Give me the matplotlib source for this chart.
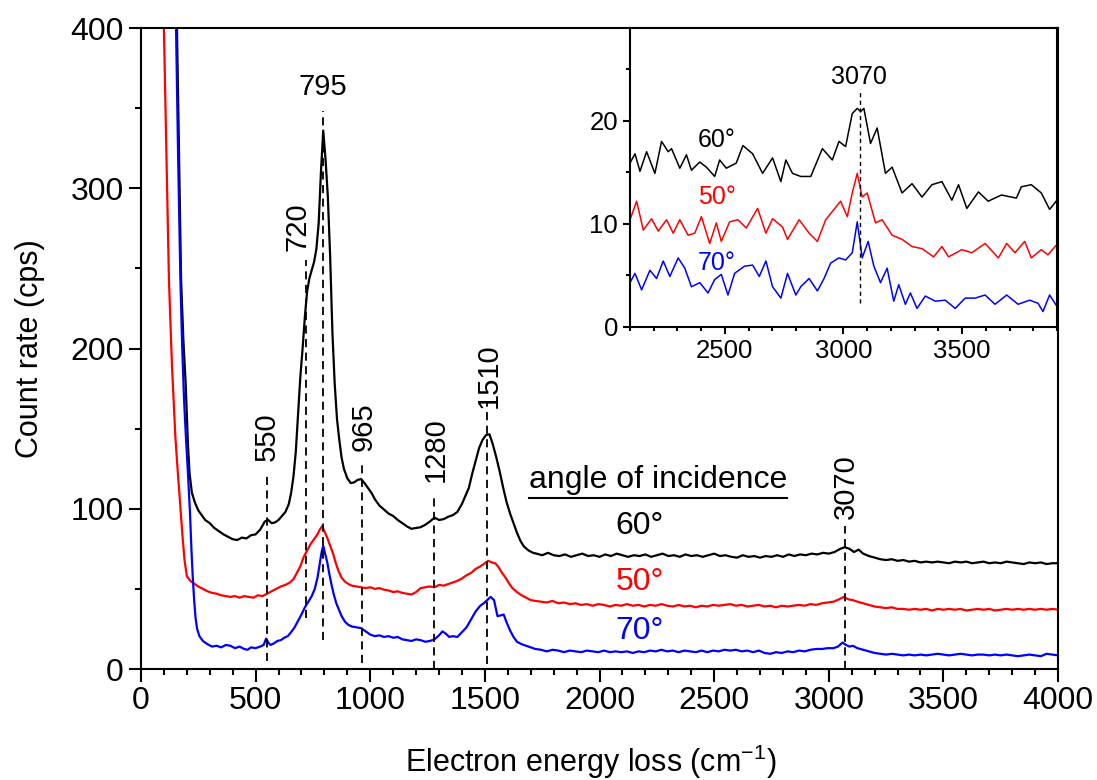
import matplotlib.pyplot as plt
from matplotlib.ticker import MultipleLocator
from matplotlib.lines import Line2D

plt.rcParams['font.family'] = ['Liberation Sans', 'DejaVu Sans']
plt.rcParams['mathtext.fontset'] = 'custom'
plt.rcParams['mathtext.rm'] = 'Liberation Sans'

BLACK = "#000000"
RED = "#FF0000"
BLUE = "#0000FF"

# ---- main spectra ----
x60 = [157, 166, 175, 185, 195, 205, 212, 222, 235, 250, 265, 280, 300, 320, 340, 360,
       380, 400, 420, 440, 460, 480, 500, 520, 540, 555, 570, 585, 600, 615, 630, 645,
       655, 665, 675, 685, 695, 705, 715, 725, 735, 745, 755, 765, 775, 785, 795, 805,
       815, 825, 835, 845, 855, 865, 875, 885, 900, 915, 930, 945, 960, 975, 990, 1005,
       1020, 1040, 1060, 1080, 1100, 1120, 1140, 1160, 1180, 1200, 1220, 1240, 1260,
       1280, 1300, 1320, 1340, 1360, 1380, 1400, 1415, 1430, 1445, 1460, 1475, 1490,
       1505, 1520, 1535, 1550, 1565, 1580, 1595, 1610, 1625, 1640, 1655, 1670, 1690,
       1710, 1725, 1750, 1775, 1800, 1825, 1850, 1875, 1900, 1925, 1950, 1975, 2000,
       2025, 2050, 2075, 2100, 2125, 2150, 2175, 2200, 2225, 2250, 2275, 2300, 2325,
       2350, 2375, 2400, 2425, 2450, 2475, 2500, 2525, 2550, 2575, 2600, 2625, 2650,
       2675, 2700, 2725, 2750, 2775, 2800, 2825, 2850, 2875, 2900, 2925, 2950, 2975,
       3000, 3025, 3050, 3070, 3090, 3110, 3130, 3150, 3175, 3200, 3225, 3250, 3275,
       3300, 3325, 3350, 3375, 3400, 3425, 3450, 3475, 3500, 3525, 3550, 3575, 3600,
       3625, 3650, 3675, 3700, 3725, 3750, 3775, 3800, 3825, 3850, 3875, 3900, 3925,
       3950, 3975, 4000]
y60 = [400, 320, 243, 205, 178, 140, 122, 110, 104, 99, 96, 93, 91, 88, 86, 84,
       82.5, 81, 80.5, 82, 81.5, 83.5, 84, 87, 92, 93, 91, 91.5, 93, 95.5, 98, 103,
       110, 120, 135, 158, 182, 200, 220, 236, 244, 249, 254, 262, 278, 310, 336, 318,
       295, 258, 210, 178, 156, 143, 132, 125, 119, 116, 116.5, 118, 118.5, 116, 113, 110,
       106, 102, 99.5, 97, 95.5, 93, 91, 89, 87.5, 88, 88.5, 90, 92,
       94.5, 93, 93.5, 95, 96, 98, 103, 108, 113, 122, 130, 138, 143,
       146, 146.5, 140, 132, 123, 113, 104, 97, 91, 85, 80, 76.5, 74,
       72.5, 72, 71, 72.5, 71, 70.5, 71.5, 70, 71, 72, 70.5, 71, 70,
       71.5, 70.5, 72, 71, 70, 71, 70.5, 71.5, 70, 71, 72, 70.5, 71,
       70, 71.5, 70.5, 71, 70, 71, 72, 70.5, 71, 70, 69.5, 71, 70,
       70.5, 69.5, 70.5, 70, 71, 70, 71.5, 70.5, 71.5, 71, 72, 71.5, 72.5,
       72, 73, 75, 76, 75, 73, 74.5, 72, 70.5, 69.5, 68.5, 68, 68.5,
       67.5, 68, 67, 67.5, 66.5, 67, 66.5, 67, 66.5, 66, 67, 66.5, 67,
       66, 66.5, 67, 66, 66.5, 66, 67, 66.5, 66, 65.5, 66.5, 66, 66.5,
       65.5, 66, 66]

x50 = [100, 110, 122, 135, 150, 162, 170, 180, 190, 200, 215, 230, 250, 270, 290, 310,
       330, 350, 370, 390, 410, 430, 450, 470, 490, 510, 530, 550, 570, 590, 610, 630,
       650, 665, 680, 695, 710, 725, 740, 755, 770, 780, 790, 800, 812, 825, 838, 850,
       862, 875, 890, 905, 920, 940, 960, 980, 1000, 1020, 1040, 1060, 1080, 1100, 1120,
       1140, 1160, 1180, 1200, 1220, 1240, 1260, 1280, 1300, 1320, 1340, 1360, 1380,
       1400, 1420, 1440, 1460, 1480, 1500, 1515, 1530, 1545, 1560, 1575, 1590, 1605,
       1620, 1640, 1660, 1680, 1700, 1720, 1745, 1770, 1795, 1820, 1845, 1870, 1895,
       1920, 1945, 1970, 1995, 2020, 2045, 2070, 2095, 2120, 2145, 2170, 2195, 2220,
       2245, 2270, 2295, 2320, 2345, 2370, 2395, 2420, 2445, 2470, 2495, 2520, 2545,
       2570, 2595, 2620, 2645, 2670, 2695, 2720, 2745, 2770, 2795, 2820, 2845, 2870,
       2895, 2920, 2945, 2970, 2995, 3020, 3045, 3065, 3085, 3105, 3125, 3150, 3175,
       3200, 3225, 3250, 3275, 3300, 3325, 3350, 3375, 3400, 3425, 3450, 3475, 3500,
       3525, 3550, 3575, 3600, 3625, 3650, 3675, 3700, 3725, 3750, 3775, 3800, 3825,
       3850, 3875, 3900, 3925, 3950, 3975, 4000]
y50 = [400, 330, 243, 190, 145, 120, 105, 85, 68, 58, 55, 53.5, 51.5, 50, 48.5, 47.5,
       47, 46, 45.5, 45, 45.5, 44.5, 45.5, 45, 44.5, 46, 45.5, 47, 48.5, 50, 51.5, 52.5,
       54, 56, 60, 64, 70, 74, 78, 81, 84, 87, 89, 86, 82, 77, 72, 66,
       61, 57, 54.5, 53, 52, 51.5, 51, 50.5, 51, 50, 50.5, 49.5, 49, 48, 48.5,
       47.5, 47, 46.5, 48, 50.5, 51, 51.5, 51, 52.5, 52, 53, 54, 55,
       56.5, 58.5, 60, 62.5, 64, 66, 67.5, 66.5, 66, 63.5, 60, 57, 53.5,
       50.5, 48, 46, 44.5, 43, 42.5, 42, 41.5, 42.5, 41, 41.5, 40.5, 41,
       40, 40.5, 39.5, 40.5, 40, 39, 40, 39.5, 40.5, 39.5, 40, 39, 40,
       39.5, 40.5, 39.5, 39, 40, 39, 39.5, 38.5, 39.5, 39, 40, 39.5, 40,
       40.5, 39.5, 40, 39, 39.5, 40, 39, 39.5, 38.5, 39.5, 39, 39.5, 40,
       39.5, 40.5, 40, 41, 41.5, 42, 43.5, 45, 43.5, 43, 42, 41, 40,
       39, 38.5, 38, 38.5, 37.5, 37.5, 37, 37.5, 37, 37.5, 36.5, 37.5, 37,
       37.5, 37, 37.5, 36.5, 37, 37.5, 37, 37.5, 36.5, 37, 37.5, 37, 37.5,
       37, 37.5, 37, 37.5, 37, 37.5, 37]

x70 = [153, 162, 172, 180, 188, 196, 205, 214, 220, 226, 232, 238, 245, 255, 270, 290,
       310, 330, 350, 370, 390, 410, 430, 450, 465, 480, 500, 520, 535, 546, 555, 565,
       580, 595, 610, 625, 640, 655, 670, 685, 700, 715, 730, 745, 758, 770, 780, 788,
       795, 803, 812, 822, 832, 842, 852, 862, 875, 890, 905, 920, 940, 960, 980, 1000,
       1020, 1040, 1060, 1080, 1100, 1120, 1140, 1160, 1180, 1200, 1220, 1240, 1260,
       1280, 1300, 1315, 1330, 1345, 1360, 1380, 1400, 1420, 1440, 1460, 1480, 1495,
       1510, 1525, 1540, 1555, 1570, 1582, 1595, 1610, 1625, 1640, 1660, 1680, 1700,
       1720, 1745, 1770, 1795, 1820, 1845, 1870, 1895, 1920, 1945, 1970, 1995, 2020,
       2045, 2070, 2095, 2120, 2145, 2170, 2195, 2220, 2245, 2270, 2295, 2320, 2345,
       2370, 2395, 2420, 2445, 2470, 2495, 2520, 2545, 2570, 2595, 2620, 2645, 2670,
       2695, 2720, 2745, 2770, 2795, 2820, 2845, 2870, 2895, 2920, 2945, 2970, 2995,
       3020, 3040, 3060, 3075, 3090, 3105, 3125, 3150, 3175, 3200, 3225, 3250, 3275,
       3300, 3325, 3350, 3375, 3400, 3425, 3450, 3475, 3500, 3525, 3550, 3575, 3600,
       3625, 3650, 3675, 3700, 3725, 3750, 3775, 3800, 3825, 3850, 3875, 3900, 3925,
       3950, 3975, 4000]
y70 = [400, 320, 243, 200, 168, 145, 122, 97, 75, 57, 43, 32, 25, 20.5, 17.5, 15.5,
       14, 14.5, 13.5, 15, 14.5, 13, 14, 12.5, 12, 13.5, 13, 14, 15, 19, 16.5, 15,
       16, 17.5, 18, 19.5, 20.5, 23, 26, 30, 34, 38.5, 42, 45.5, 50, 57, 66, 73,
       77, 72, 67, 59, 52, 46, 41, 37.5, 33, 29.5, 27.5, 26.5, 26, 25.5, 23.5, 21.5,
       20.5, 21, 20, 20.5, 19.5, 20, 18.5, 18, 17.5, 18.5, 18, 17, 17.5,
       18.5, 21, 23.5, 22, 20, 20.5, 20, 23, 26, 31, 36, 39.5, 41,
       43, 45, 43, 33, 33.5, 34, 29, 24, 20, 17, 15.5, 14.5, 13.5,
       12.5, 12, 11, 12, 11.5, 10.5, 11.5, 11, 10.5, 11.5, 11, 10.5, 11.5,
       10.5, 11, 10.5, 11, 10, 11, 10.5, 11.5, 11, 12, 11, 11.5, 10.5,
       11.5, 11, 10.5, 11.5, 10.5, 11.5, 11, 12, 11.5, 12, 11, 11.5, 10.5,
       11.5, 10, 9.5, 10.5, 10, 11, 10.5, 11.5, 11, 12, 12.5, 12.5, 13,
       13, 14, 16.5, 15, 14, 14.5, 13, 12, 11, 10, 9.5, 9, 9.5,
       9, 8.5, 9, 8.5, 9, 8.5, 9, 9.5, 9, 8.5, 9, 9.5, 9,
       8.5, 9, 9, 8.5, 9, 8.5, 9, 8.5, 8, 8.5, 9, 8.5, 8,
       9.5, 9, 8.5]

# ---- inset spectra ----
xi60 = [2100, 2121, 2142, 2170, 2205, 2233, 2261, 2275, 2310, 2338, 2359, 2394, 2422,
        2457, 2478, 2506, 2548, 2576, 2617, 2659, 2701, 2736, 2757, 2785, 2820, 2862,
        2911, 2953, 2981, 3009, 3037, 3058, 3072, 3086, 3114, 3142, 3177, 3205, 3247,
        3289, 3331, 3373, 3415, 3457, 3485, 3520, 3569, 3610, 3666, 3729, 3750, 3792,
        3834, 3869, 3900]
yi60 = [15.9, 16.8, 15.1, 17.0, 14.9, 18.0, 17.0, 17.3, 15.4, 16.7, 15.2, 16.0, 15.5,
        14.6, 16.2, 15.4, 15.9, 17.6, 16.8, 14.9, 16.4, 14.1, 16.2, 14.9, 14.6, 14.6,
        17.3, 16.2, 18.0, 17.5, 20.7, 21.2, 20.9, 21.2, 17.8, 19.3, 14.9, 15.5, 13.0,
        13.9, 12.6, 13.8, 14.1, 12.3, 13.8, 11.5, 13.1, 12.2, 12.8, 12.5, 13.6, 13.8,
        13.0, 11.4, 12.3]

xi50 = [2100, 2128, 2156, 2191, 2219, 2254, 2282, 2310, 2345, 2373, 2401, 2436, 2464,
        2485, 2520, 2555, 2590, 2638, 2673, 2701, 2743, 2764, 2813, 2855, 2890, 2925,
        2960, 2988, 3016, 3037, 3058, 3079, 3100, 3135, 3163, 3205, 3247, 3289, 3331,
        3380, 3415, 3443, 3499, 3541, 3597, 3653, 3688, 3723, 3764, 3792, 3834, 3862,
        3900]
yi50 = [10.4, 12.2, 9.4, 10.5, 9.3, 10.4, 9.1, 10.4, 8.9, 9.1, 10.7, 8.1, 10.1,
        8.3, 10.2, 10.4, 9.6, 11.5, 9.1, 10.5, 9.7, 8.5, 10.4, 9.1, 8.3, 10.4,
        11.4, 12.2, 10.7, 13.0, 14.9, 12.6, 13.0, 10.1, 10.4, 8.9, 8.5, 7.8, 7.6,
        6.8, 7.8, 6.8, 7.5, 7.2, 8.1, 6.7, 8.1, 7.2, 8.3, 6.7, 7.5, 7.0,
        8.0]

xi70 = [2100, 2121, 2149, 2184, 2212, 2240, 2268, 2303, 2331, 2359, 2394, 2429, 2457,
        2485, 2513, 2541, 2583, 2617, 2645, 2673, 2701, 2736, 2764, 2799, 2820, 2855,
        2890, 2918, 2946, 2981, 3009, 3037, 3058, 3079, 3104, 3128, 3156, 3184, 3212,
        3233, 3261, 3282, 3310, 3345, 3387, 3429, 3471, 3513, 3555, 3597, 3639, 3688,
        3736, 3785, 3820, 3841, 3869, 3900]
yi70 = [4.3, 5.2, 3.6, 5.5, 4.7, 6.4, 4.9, 6.7, 5.7, 3.9, 4.3, 3.3, 4.6,
        5.1, 3.1, 5.2, 5.9, 6.0, 4.9, 6.4, 3.9, 2.8, 5.2, 3.1, 3.9, 4.7,
        3.5, 4.7, 6.2, 6.7, 6.5, 7.2, 10.2, 6.7, 8.3, 5.9, 4.3, 5.7, 2.5,
        4.1, 2.2, 3.3, 1.8, 3.0, 2.5, 2.6, 1.8, 2.8, 2.8, 3.1, 2.2, 3.1,
        2.2, 2.6, 2.3, 1.5, 3.1, 2.0]

# peak markers: position, dashed line from/to, label centre, rotation
peak_pos   = [550, 720, 795, 965, 1280, 1510, 3070]
peak_lo    = [5, 32, 18, 4, 0, 3, 0]
peak_hi    = [122, 255, 348, 130, 110, 167, 89]
label_x    = [548, 681, 795, 971, 1284, 1515, 3074]
label_y    = [145, 276, 363, 151, 137, 183, 114]
label_rot  = [90, 90, 0, 90, 90, 90, 90]

angles = ["60°", "50°", "70°"]
colors = [BLACK, RED, BLUE]


def style_axis(ax, size, major_len, minor_len):
    ax.tick_params(which="both", direction="out", width=1.5, labelsize=size,
                   colors=BLACK)
    ax.tick_params(which="major", length=major_len)
    ax.tick_params(which="minor", length=minor_len)
    for s in ax.spines.values():
        s.set_linewidth(1.5)


fig = plt.figure(figsize=(10.97, 7.8), dpi=100)
ax = fig.add_axes([0.1285, 0.1423, 0.836, 0.8218])

ax.plot(x60, y60, color=BLACK, lw=1.6, zorder=2)
ax.plot(x50, y50, color=RED, lw=1.6, zorder=2)
ax.plot(x70, y70, color=BLUE, lw=1.6, zorder=2)

for p, lo, hi, lx, ly, rot in zip(peak_pos, peak_lo, peak_hi, label_x, label_y, label_rot):
    ax.plot([p, p], [lo, hi], color=BLACK, lw=1.3, ls=(0, (4.5, 3)), zorder=3)
    ax.text(lx, ly, str(p), rotation=rot, ha="center", va="center", fontsize=21)

ax.set_xlim(0, 4000)
ax.set_ylim(0, 400)
ax.xaxis.set_major_locator(MultipleLocator(500))
ax.xaxis.set_minor_locator(MultipleLocator(100))
ax.yaxis.set_major_locator(MultipleLocator(100))
ax.yaxis.set_minor_locator(MultipleLocator(50))
style_axis(ax, 23, 9, 4)
ax.set_xlabel(r"Electron energy loss (cm$^{\mathregular{-1}}$)", fontsize=22)
ax.set_ylabel("Count rate (cps)", fontsize=22)
ax.xaxis.set_label_coords(0.49, -0.115)
ax.yaxis.set_label_coords(-0.105, 0.5)

head = ax.text(2255, 118, "angle of incidence", ha="center", va="center", fontsize=23)
for name, c, yy in zip(angles, colors, [89, 54, 24]):
    ax.text(2175, yy, name, color=c, ha="center", va="center", fontsize=23)

# ---- inset ----
axi = fig.add_axes([0.5743, 0.5808, 0.3892, 0.3833])
axi.plot(xi60, yi60, color=BLACK, lw=1.1)
axi.plot(xi50, yi50, color=RED, lw=1.1)
axi.plot(xi70, yi70, color=BLUE, lw=1.1)
axi.plot([3070, 3070], [2.3, 23.1], color=BLACK, lw=1.0, ls=(0, (3, 2.5)))
axi.text(3065, 24.2, "3070", ha="center", va="center", fontsize=18)
for name, c, yy in zip(angles, colors, [18.1, 12.6, 6.2]):
    axi.text(2465, yy, name, color=c, ha="center", va="center", fontsize=18)
axi.set_xlim(2100, 3900)
axi.set_ylim(0, 29)
axi.xaxis.set_major_locator(MultipleLocator(500))
axi.xaxis.set_minor_locator(MultipleLocator(100))
axi.yaxis.set_major_locator(MultipleLocator(10))
axi.yaxis.set_minor_locator(MultipleLocator(5))
style_axis(axi, 18.5, 5, 3)

# underline the legend heading
fig.canvas.draw()
bb = head.get_window_extent().transformed(fig.transFigure.inverted())
fig.add_artist(Line2D([bb.x0, bb.x1], [bb.y0 - 0.004, bb.y0 - 0.004],
                      transform=fig.transFigure, color=BLACK, lw=1.5))

fig.savefig("out.png", dpi=100, facecolor="white")
